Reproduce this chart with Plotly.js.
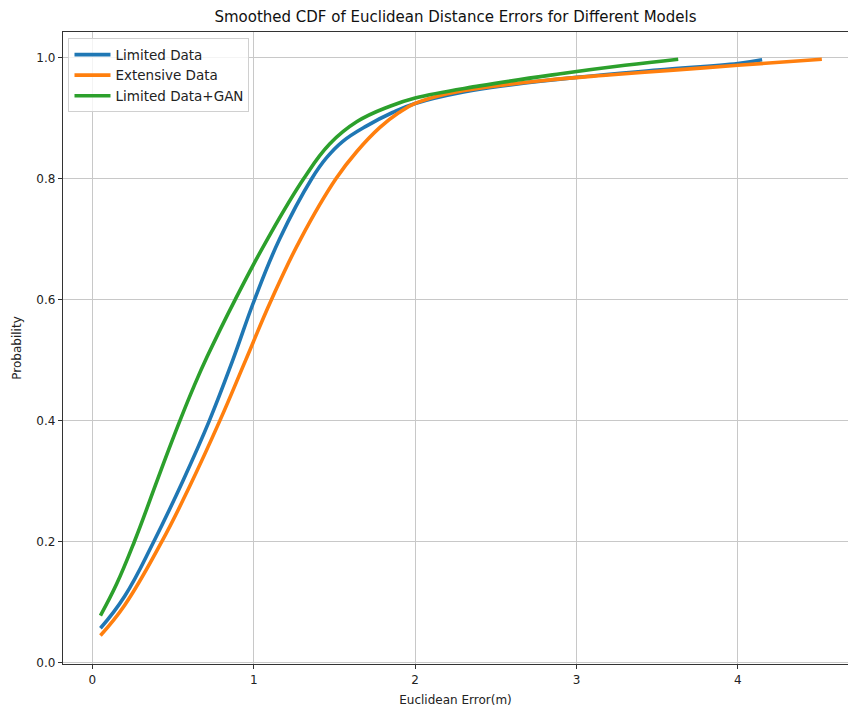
<!DOCTYPE html>
<html>
<head>
<meta charset="utf-8">
<script src="https://cdn.plot.ly/plotly-3.0.1.min.js"></script>
<style>html,body{margin:0;padding:0;background:#fff;}#chart{width:848px;height:712px;}</style>
</head>
<body>
<div id="chart"></div>
<script>
const seriesNames = ["Limited Data", "Extensive Data", "Limited Data+GAN"];
const seriesColors = ["#1f77b4", "#ff7f0e", "#2ca02c"];

const limitedX = [0.05,0.2,0.38,0.56,0.725,0.87,1.005,1.16,1.36,1.45,1.55,1.7,1.86,2.0,2.3,2.6,3.0,3.5,4.0,4.15];
const limitedY = [0.057,0.11,0.2,0.3,0.4,0.5,0.6,0.7,0.8,0.834,0.861,0.887,0.909,0.924,0.943,0.955,0.967,0.979,0.99,0.996];

const extensiveX = [0.05,0.2,0.43,0.6,0.79,0.95,1.11,1.29,1.51,1.64,1.78,1.9,2.0,2.2,2.5,2.8,3.2,3.6,4.0,4.52];
const extensiveY = [0.045,0.095,0.2,0.29,0.4,0.5,0.6,0.7,0.8,0.845,0.884,0.909,0.924,0.94,0.953,0.962,0.971,0.979,0.987,0.997];

const ganX = [0.05,0.15,0.26,0.4,0.47,0.55,0.63,0.71,0.885,1.085,1.31,1.47,1.64,1.84,2.0,2.4,2.9,3.3,3.63];
const ganY = [0.078,0.13,0.2,0.3,0.35,0.405,0.457,0.505,0.6,0.7,0.8,0.857,0.894,0.919,0.933,0.953,0.973,0.987,0.997];

const xs = [limitedX, extensiveX, ganX];
const ys = [limitedY, extensiveY, ganY];

const traces = seriesNames.map((n, i) => ({
  x: xs[i], y: ys[i], name: n, type: "scatter", mode: "lines",
  line: {color: seriesColors[i], width: 3.6, shape: "spline", smoothing: 1.2}
}));

const font = {family: "DejaVu Sans, sans-serif", size: 12, color: "#222"};
const layout = {
  width: 848, height: 712,
  margin: {l: 63, r: 0, t: 32, b: 48},
  paper_bgcolor: "#fff", plot_bgcolor: "#fff",
  font: font,
  title: {text: "Smoothed CDF of Euclidean Distance Errors for Different Models",
          font: {family: "DejaVu Sans, sans-serif", size: 15, color: "#111"},
          x: 0.5, xanchor: "center", y: 0.977, yanchor: "middle", xref: "paper"},
  xaxis: {
    range: [-0.182, 4.682], dtick: 1, tick0: 0,
    showgrid: true, gridcolor: "#c8c8c8", gridwidth: 1,
    zeroline: false, showline: true, linecolor: "#333", linewidth: 1.2, mirror: true,
    ticks: "outside", ticklen: 4, tickcolor: "#333",
    tickfont: {family: "DejaVu Sans, sans-serif", size: 12, color: "#222"},
    title: {text: "Euclidean Error(m)", font: {family: "DejaVu Sans, sans-serif", size: 12, color: "#222"}, standoff: 10}
  },
  yaxis: {
    range: [-0.002, 1.042], dtick: 0.2, tick0: 0, tickformat: ".1f",
    showgrid: true, gridcolor: "#c8c8c8", gridwidth: 1,
    zeroline: false, showline: true, linecolor: "#333", linewidth: 1.2, mirror: true,
    ticks: "outside", ticklen: 4, tickcolor: "#333",
    tickfont: {family: "DejaVu Sans, sans-serif", size: 12, color: "#222"},
    title: {text: "Probability", font: {family: "DejaVu Sans, sans-serif", size: 12, color: "#222"}, standoff: 12}
  },
  legend: {
    x: 0.007, y: 0.99, xanchor: "left", yanchor: "top",
    bgcolor: "rgba(255,255,255,0.8)", bordercolor: "#d0d0d0", borderwidth: 1,
    font: {family: "DejaVu Sans, sans-serif", size: 13.5, color: "#222"},
    tracegroupgap: 0, itemwidth: 36
  },
  showlegend: true
};

Plotly.newPlot("chart", traces, layout, {displayModeBar: false, staticPlot: true});
</script>
</body>
</html>
